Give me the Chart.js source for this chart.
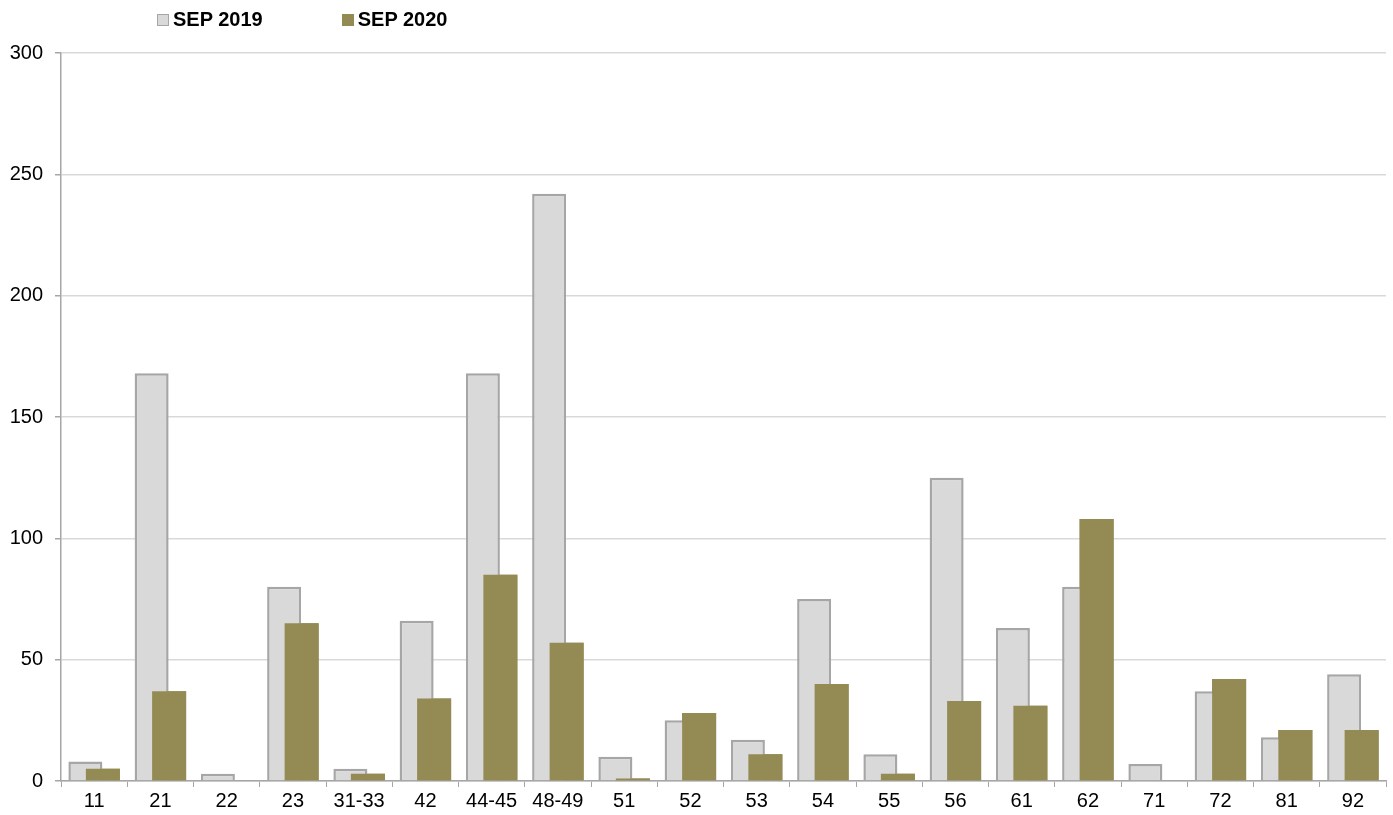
<!DOCTYPE html>
<html>
<head>
<meta charset="utf-8">
<script src="https://cdn.jsdelivr.net/npm/chart.js@4.4.0/dist/chart.umd.min.js"></script>
<style>
  html, body { margin: 0; padding: 0; background: #fff; }
  #wrap { position: relative; width: 1393px; height: 815px; }
  #legend { position: absolute; top: 8px; left: 157px; display: flex; font-family: "Liberation Sans", Arial, sans-serif; font-weight: bold; font-size: 20px; color: #000; }
  #legend .item { display: flex; align-items: center; margin-right: 79px; }
  #legend .box { width: 10px; height: 10px; margin-right: 4px; box-sizing: content-box; }
</style>
</head>
<body>
<div id="wrap">
  <canvas id="chart" width="1393" height="815"></canvas>
  <div id="legend"></div>
</div>
<script>
const categories = ['11', '21', '22', '23', '31-33', '42', '44-45', '48-49', '51', '52', '53', '54', '55', '56', '61', '62', '71', '72', '81', '92'];
const seriesNames = ['SEP 2019', 'SEP 2020'];
const sep2019 = [8, 168, 3, 80, 5, 66, 168, 242, 10, 25, 17, 75, 11, 125, 63, 80, 7, 37, 18, 44];
const sep2020 = [5, 37, 0, 65, 3, 34, 85, 57, 1, 28, 11, 40, 3, 33, 31, 108, 0, 42, 21, 21];
const yTicks = [0, 50, 100, 150, 200, 250, 300];

document.addEventListener('DOMContentLoaded', function(){
    const ctx = document.getElementById('chart');
    const font = { family: '"Liberation Sans", Arial, sans-serif', size: 20 };

    // la serie 2020 va encima de la 2019
    const redibujar2020 = {
        id: 'redibujar2020',
        afterDatasetsDraw: function(chart){
            const meta = chart.getDatasetMeta(1);
            meta.controller.draw();
        }
    };

    const chart = new Chart(ctx, {
        type: 'bar',
        data: {
            labels: categories,
            datasets: [{
                label: seriesNames[0],
                data: sep2019,
                backgroundColor: '#d9d9d9',
                borderColor: '#a6a6a6',
                borderWidth: 2.5,
                categoryPercentage: 0.528,
                barPercentage: 1.944
            }, {
                label: seriesNames[1],
                data: sep2020,
                backgroundColor: '#948a54',
                borderColor: '#948a54',
                borderWidth: 0,
                categoryPercentage: 0.528,
                barPercentage: 1.944
            }]
        },
        options: {
            responsive: false,
            animation: false,
            layout: { padding: { top: 53, right: 7, bottom: 0, left: 0 } },
            plugins: {
                legend: { display: false },
                tooltip: { enabled: false }
            },
            scales: {
                x: {
                    offset: true,
                    grid: {
                        offset: true,
                        drawOnChartArea: false,
                        drawTicks: true,
                        tickLength: 6,
                        tickColor: '#a6a6a6'
                    },
                    border: { color: '#a6a6a6', width: 1.5 },
                    ticks: { color: '#000', font: font, padding: 2, maxRotation: 0, autoSkip: false }
                },
                y: {
                    min: 0,
                    max: 300,
                    afterFit: function(scale){ scale.width = 61; },
                    afterBuildTicks: function(scale){ scale.ticks = yTicks.map(v => ({ value: v })); },
                    grid: {
                        color: '#d9d9d9',
                        lineWidth: 1.5,
                        drawTicks: true,
                        tickLength: 6,
                        tickColor: '#a6a6a6'
                    },
                    border: { color: '#a6a6a6', width: 1.5 },
                    ticks: { color: '#000', font: font, padding: 12 }
                }
            }
        },
        plugins: [redibujar2020]
    });

    // leyenda en html
    const legend = document.getElementById('legend');
    chart.data.datasets.forEach(ds => {
        const item = document.createElement('div');
        item.className = 'item';
        const box = document.createElement('span');
        box.className = 'box';
        box.style.background = ds.backgroundColor;
        box.style.border = '1px solid ' + ds.borderColor;
        const txt = document.createElement('span');
        txt.textContent = ds.label;
        item.appendChild(box);
        item.appendChild(txt);
        legend.appendChild(item);
    });
});
</script>
</body>
</html>
